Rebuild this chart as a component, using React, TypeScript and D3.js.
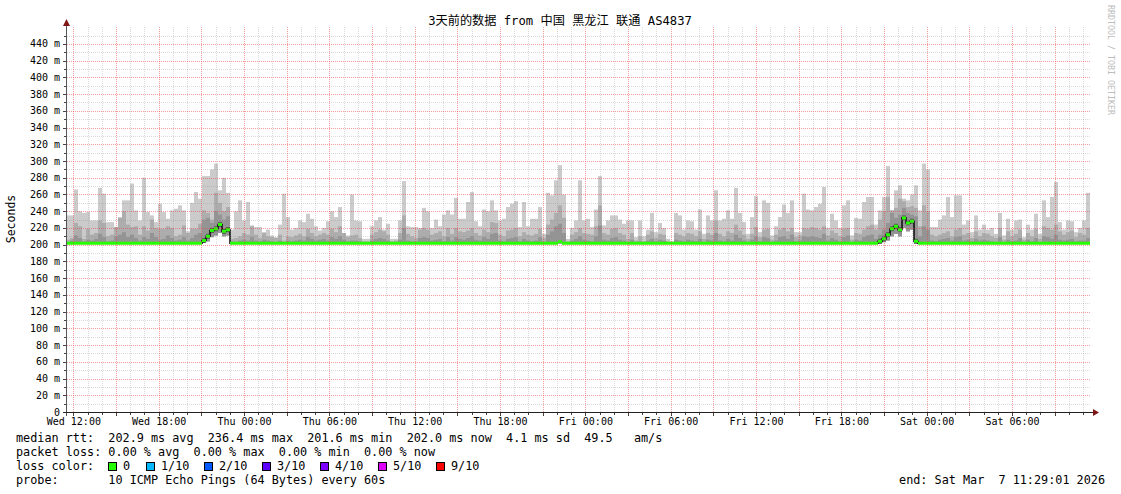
import React from 'react';
import * as d3 from 'd3';

// ---------- data ----------
const TITLE = '3天前的数据 from 中国 黑龙江 联通 AS4837';
const START = Date.UTC(2026, 2, 4, 11, 29, 1);
const END = Date.UTC(2026, 2, 7, 11, 29, 1);
const BIN_COUNT = 256;

// smoke: highest ping of each interval (ms)
const maxRtt = [
  235,235,266,240,238,239,229,229,268,261,227,227,221,233,253,253,
  273,241,229,280,239,235,227,249,239,231,241,243,247,241,216,250,
  263,255,282,282,290,297,265,280,262,218,240,253,229,251,223,221,
  221,215,218,211,209,224,261,233,218,220,229,227,237,231,222,217,
  220,228,240,233,245,214,211,260,229,228,207,207,222,229,233,218,
  225,207,207,229,276,222,221,221,220,244,240,220,230,222,236,241,
  236,256,231,231,251,263,228,222,242,240,253,241,229,231,245,249,
  252,221,251,222,231,231,245,213,262,259,277,295,260,207,220,229,
  277,229,231,221,242,282,223,229,235,235,230,225,229,229,209,229,
  210,218,238,215,226,220,207,204,238,235,218,229,228,218,242,213,
  235,229,265,229,231,241,231,268,238,227,213,233,258,215,253,250,
  211,222,233,248,238,253,215,215,261,242,241,245,249,269,220,237,
  229,220,247,253,211,232,231,251,257,257,224,241,257,294,241,265,
  271,255,253,260,271,241,297,290,221,221,230,235,257,233,259,259,
  224,229,215,235,218,224,218,220,213,238,211,231,218,229,230,209,
  224,218,237,213,253,233,257,275,227,218,229,228,215,220,229,262,
];
// smoke: 9th ping (ms)
const p9Rtt = [
  206,208,226,222,207,219,212,214,229,226,210,212,223,232,240,224,
  221,222,212,222,217,230,220,219,219,222,220,210,212,223,214,219,
  219,225,241,238,230,262,250,240,245,207,208,210,214,212,222,212,
  208,214,210,209,208,212,205,210,209,211,213,210,219,214,210,212,
  214,212,219,215,222,214,209,211,212,208,204,204,212,215,218,216,
  212,204,205,214,235,213,210,208,218,220,218,212,214,216,210,220,
  213,220,216,215,217,220,214,211,218,215,227,226,212,210,217,218,
  220,210,215,212,211,213,219,208,224,230,238,247,232,204,212,215,
  220,214,213,212,222,247,214,212,219,220,214,212,207,214,205,210,
  204,212,216,208,213,212,204,203,214,212,210,214,213,210,216,207,
  214,212,229,213,210,216,214,224,217,212,207,213,221,209,218,219,
  206,212,218,220,216,220,209,211,220,219,221,220,218,222,211,217,
  214,210,219,220,206,214,213,218,222,224,218,230,240,257,243,244,
  255,252,245,246,244,222,247,240,212,210,212,214,216,210,218,220,
  212,214,208,216,210,214,213,210,208,220,206,216,210,213,218,206,
  214,210,219,207,222,220,218,224,216,212,215,217,209,214,212,220,
];
// smoke: 8th ping (ms)
const p8Rtt = [
  203,205,211,208,204,206,205,207,213,209,204,205,210,212,215,209,
  212,208,205,209,207,214,209,206,207,211,208,205,206,209,205,208,
  212,214,230,232,226,240,236,230,234,204,203,205,206,205,209,205,
  204,206,205,204,203,205,203,205,204,205,206,205,209,207,205,206,
  207,205,209,207,210,206,204,205,205,204,203,203,205,207,208,207,
  205,203,203,206,220,205,204,204,208,209,208,205,206,207,204,209,
  205,209,207,206,208,210,206,205,209,207,213,214,205,204,207,208,
  209,204,207,205,204,205,209,203,212,216,222,225,214,203,205,207,
  210,206,205,204,210,223,206,205,208,209,206,205,203,206,203,204,
  203,205,207,204,206,205,203,202,206,205,204,206,205,204,207,203,
  206,205,214,205,204,207,205,212,208,205,203,206,210,204,209,208,
  203,205,209,210,207,212,204,205,210,209,210,209,208,213,205,208,
  206,204,209,211,203,206,205,209,211,212,207,212,218,226,238,232,
  236,244,238,236,234,210,222,218,205,204,206,207,208,205,209,210,
  205,206,204,207,205,206,205,204,203,209,203,206,204,205,208,203,
  206,204,208,203,210,209,207,212,206,205,206,207,204,205,205,208,
];

const MEDIAN_BASE = 201.8;
const SMOKE_FLOOR = 201.4;

// periods where the median rose
const bump1Start = 34;
const bump1Median = [205, 210, 217, 219, 224, 216, 218];
const bump1Low = [202, 204, 209, 211, 214, 210, 211];
const bump2Start = 203;
const bump2Median = [204, 207, 212, 219, 222, 218, 232, 226, 228, 204];
const bump2Low = [202, 203, 205, 210, 213, 210, 220, 216, 218, 202];
const bump3Start = 123;
const bump3Median = [203.5];
const bump3Low = [201.4];

const yLabelTicks = d3.range(0, 441, 20);
const yMinorTicks = d3.range(10, 460, 20);

const legendRows = [
  'median rtt:  202.9 ms avg  236.4 ms max  201.6 ms min  202.0 ms now  4.1 ms sd  49.5   am/s',
  'packet loss: 0.00 % avg  0.00 % max  0.00 % min  0.00 % now',
  'loss color:',
  'probe:       10 ICMP Echo Pings (64 Bytes) every 60s',
];
const lossLabels = ['0', '1/10', '2/10', '3/10', '4/10', '5/10', '9/10'];
const lossColors = ['#26ff00', '#00b8ff', '#0059ff', '#5e00ff', '#7e00ff', '#dd00ff', '#ff0000'];
const lossBoxX = [108, 146, 204, 262, 320, 378, 436];
const lossTextX = [123, 161, 219, 277, 335, 393, 451];
const endText = 'end: Sat Mar  7 11:29:01 2026';

const MONO = '"DejaVu Sans Mono", monospace';
const nb = (s: string) => s.replace(/ /g, '\u00a0');

export default function App() {
  const x = d3.scaleUtc().domain([new Date(START), new Date(END)]).range([66, 1090]);
  const y = d3.scaleLinear().domain([0, 459.5]).range([412, 27.6]);
  const binMs = (END - START) / BIN_COUNT;
  const bx = (i: number) => Math.round(x(new Date(START + i * binMs)));

  const median = maxRtt.map(() => MEDIAN_BASE);
  const low = maxRtt.map(() => SMOKE_FLOOR);
  const bumps: [number, number[], number[]][] = [
    [bump1Start, bump1Median, bump1Low],
    [bump2Start, bump2Median, bump2Low],
    [bump3Start, bump3Median, bump3Low],
  ];
  bumps.forEach(([s, m, l]) => m.forEach((v, k) => { median[s + k] = v; low[s + k] = l[k]; }));

  const hours = d3.utcHour.range(new Date(START), new Date(END));
  const minorX = hours.filter(d => d.getUTCHours() % 3 !== 0);
  const majorX = hours.filter(d => d.getUTCHours() % 3 === 0);
  const labelX = hours.filter(d => d.getUTCHours() % 6 === 0);
  const fmt = d3.utcFormat('%a %H:%M');

  const px = (v: number) => Math.round(v) + 0.5;
  const top = 27;
  const bottom = 412;

  const smokeLayers = [
    { vals: maxRtt, color: '#cbcbcb' },
    { vals: p9Rtt, color: '#adadad' },
    { vals: p8Rtt, color: '#949494' },
  ];

  let greenPath = '';
  median.forEach((m, i) => {
    greenPath += `M${bx(i)},${y(m)}H${bx(i + 1)}`;
  });

  const stepLine = d3.line<[number, number]>().x(d => d[0]).y(d => d[1]).curve(d3.curveStepAfter);
  const gridMinor = 'rgba(140,140,140,0.32)';
  const gridMajor = 'rgba(232,60,60,0.5)';

  return (
    <svg width={1121} height={494} style={{ display: 'block', position: 'absolute', left: 0, top: 0 }}
      fontFamily={MONO}>
      <rect x={0} y={0} width={1121} height={494} fill="#ffffff" />
      {/* smoke */}
      {smokeLayers.map((layer, li) => (
        <g key={li} fill={layer.color}>
          {layer.vals.map((v, i) => {
            let hi = v;
            if (li >= 1) hi = Math.min(hi, maxRtt[i]);
            if (li >= 2) hi = Math.min(hi, p9Rtt[i]);
            const lo = low[i];
            if (hi <= lo) return null;
            return <rect key={i} x={bx(i)} width={bx(i + 1) - bx(i)} y={y(hi)} height={y(lo) - y(hi)} />;
          })}
        </g>
      ))}
      {/* dark core around median in bump periods */}
      {bumps.slice(0, 2).map(([s, m], bi) => (
        <g key={'core' + bi} fill="#5a5a5a">
          {m.map((v, k) => (
            <rect key={k} x={bx(s + k)} width={bx(s + k + 1) - bx(s + k)} y={y(v + 3)} height={y(v - 3) - y(v + 3)} />
          ))}
        </g>
      ))}
      {bumps.slice(0, 2).map(([s, m], bi) => {
        const pts: [number, number][] = [];
        pts.push([bx(s - 1), y(MEDIAN_BASE)]);
        m.forEach((v, k) => pts.push([bx(s + k), y(v)]));
        pts.push([bx(s + m.length), y(MEDIAN_BASE)]);
        pts.push([bx(s + m.length + 1), y(MEDIAN_BASE)]);
        return <path key={'blk' + bi} d={stepLine(pts) || ''} fill="none" stroke="#111" strokeWidth={1.6} />;
      })}
      {/* median line */}
      <path d={greenPath} fill="none" stroke="#26ff00" strokeWidth={3} />

      {/* grid */}
      <g strokeWidth={1} strokeDasharray="1,1">
        {yMinorTicks.map(v => (
          <line key={'hm' + v} x1={67} x2={1090} y1={px(y(v))} y2={px(y(v))} stroke={gridMinor} />
        ))}
        {minorX.map(d => (
          <line key={'vm' + +d} x1={px(x(d))} x2={px(x(d))} y1={top} y2={bottom} stroke={gridMinor} />
        ))}
        {yLabelTicks.filter(v => v > 0).map(v => (
          <line key={'hM' + v} x1={67} x2={1090} y1={px(y(v))} y2={px(y(v))} stroke={gridMajor} />
        ))}
        {majorX.map(d => (
          <line key={'vM' + +d} x1={px(x(d))} x2={px(x(d))} y1={top} y2={bottom} stroke={gridMajor} />
        ))}
      </g>

      {/* ticks */}
      <g stroke="#444" strokeWidth={1}>
        {yLabelTicks.map(v => (
          <line key={'yt' + v} x1={63} x2={66} y1={px(y(v))} y2={px(y(v))} />
        ))}
        {yMinorTicks.map(v => (
          <line key={'ytm' + v} x1={64} x2={66} y1={px(y(v))} y2={px(y(v))} />
        ))}
        {majorX.map(d => (
          <line key={'xt' + +d} x1={px(x(d))} x2={px(x(d))} y1={412} y2={416} />
        ))}
        {minorX.map(d => (
          <line key={'xtm' + +d} x1={px(x(d))} x2={px(x(d))} y1={412} y2={415} />
        ))}
      </g>

      {/* axes */}
      <line x1={66.5} x2={66.5} y1={24} y2={416} stroke="#555" strokeWidth={1} />
      <line x1={63} x2={1094} y1={412.5} y2={412.5} stroke="#222" strokeWidth={1} />
      <path d="M63,26 L66.5,19 L70,26 Z" fill="#7f1515" />
      <path d="M1093,409 L1099,412.5 L1093,416 Z" fill="#7f1515" />

      {/* y labels */}
      <g fontSize={10} fill="#000" textAnchor="end">
        {yLabelTicks.map(v => (
          <text key={'yl' + v} x={60} y={y(v) + 3.5}>{nb(v === 0 ? '0' : `${v} m`)}</text>
        ))}
      </g>
      {/* x labels */}
      <g fontSize={10} fill="#000" textAnchor="middle">
        {labelX.map(d => (
          <text key={'xl' + +d} x={x(d) + 0.5} y={425}>{nb(fmt(d))}</text>
        ))}
      </g>

      {/* title */}
      <text x={560} y={25} fontSize={12.2} textAnchor="middle" fontFamily={'"DejaVu Sans Mono", "Noto Sans CJK SC", monospace'} fill="#000">{TITLE}</text>

      {/* vertical label */}
      <text transform="translate(15,219) rotate(-90)" fontSize={11.5} textAnchor="middle" fill="#000">Seconds</text>

      {/* watermark */}
      <text transform="translate(1108,5) rotate(90)" fontSize={8.3} fill="#bdbdbd">{nb('RRDTOOL / TOBI OETIKER')}</text>

      {/* legend */}
      <g fontSize={11.8} fill="#000">
        {legendRows.map((t, i) => (
          <text key={'lg' + i} x={16} y={442 + i * 14}>{nb(t)}</text>
        ))}
        {lossLabels.map((t, i) => (
          <g key={'ls' + i}>
            <rect x={lossBoxX[i] + 0.5} y={462.5} width={8} height={8} fill={lossColors[i]} stroke="#000" strokeWidth={1} />
            <text x={lossTextX[i]} y={470}>{t}</text>
          </g>
        ))}
        <text x={1105} y={484} textAnchor="end">{nb(endText)}</text>
      </g>
    </svg>
  );
}
